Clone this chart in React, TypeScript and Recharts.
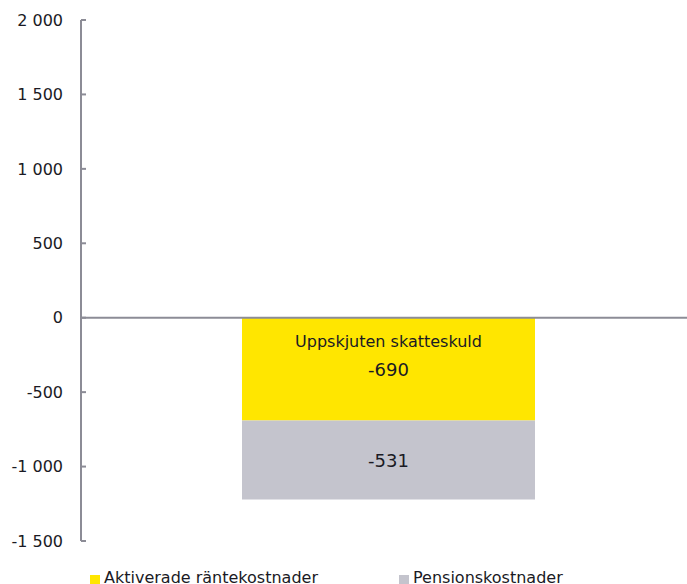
import React from "react";
import {
  BarChart,
  Bar,
  XAxis,
  YAxis,
  ReferenceLine,
  Legend,
  LabelList,
} from "recharts";

const categories = ["Uppskjuten skatteskuld"];
const aktiveradeRantekostnader = [-690];
const pensionskostnader = [-531];
const yTicks = [-1500, -1000, -500, 0, 500, 1000, 1500, 2000];

const YELLOW = "#FFE600";
const GREY = "#C4C4CD";
const AXIS = "#8C8C96";
const FONT = "'DejaVu Sans', sans-serif";

const data = categories.map((name, i) => ({
  name,
  aktiverade: aktiveradeRantekostnader[i],
  pension: pensionskostnader[i],
}));

const fmt = (v: number) => {
  const s = Math.abs(v).toString().replace(/\B(?=(\d{3})+(?!\d))/g, " ");
  return (v < 0 ? "-" : "") + s;
};

// negative bars come with a negative height, so normalise the box
const box = (p: any) => {
  const top = Math.min(p.y, p.y + p.height);
  return { top, h: Math.abs(p.height), cx: p.x + p.width / 2 };
};

function YellowLabel(props: any) {
  const { value, index } = props;
  const { top, cx } = box(props);
  return (
    <g fontFamily={FONT} fill="#1A1A24">
      <text x={cx} y={top + 29} textAnchor="middle" fontSize={16}>
        {categories[index]}
      </text>
      <text x={cx} y={top + 58} textAnchor="middle" fontSize={18}>
        {fmt(value)}
      </text>
    </g>
  );
}

function GreyLabel(props: any) {
  const { value } = props;
  const { top, h, cx } = box(props);
  return (
    <text
      x={cx}
      y={top + h / 2 + 7}
      textAnchor="middle"
      fontFamily={FONT}
      fontSize={18}
      fill="#1A1A24"
    >
      {fmt(value)}
    </text>
  );
}

function LegendContent(props: any) {
  const { payload } = props;
  return (
    <div style={{ position: "relative", height: 30, width: 687, fontFamily: FONT }}>
      {payload.map((p: any, i: number) => (
        <div
          key={p.value}
          style={{
            position: "absolute",
            left: i === 0 ? 90 : 399,
            top: 0,
            display: "flex",
            alignItems: "center",
            fontSize: 16,
            color: "#1A1A24",
            whiteSpace: "nowrap",
          }}
        >
          <span
            style={{
              display: "inline-block",
              width: 10,
              height: 10,
              background: p.color,
              marginRight: 4,
              marginTop: 4,
            }}
          />
          {p.value}
        </div>
      ))}
    </div>
  );
}

export default function App() {
  return (
    <div
      style={{
        position: "absolute",
        left: 0,
        top: 0,
        width: 687,
        height: 584,
        overflow: "hidden",
        background: "#fff",
      }}
    >
      <BarChart
        width={696}
        height={600}
        data={data}
        margin={{ top: 20, right: 0, left: 0, bottom: 29 }}
      >
        <XAxis dataKey="name" hide />
        <YAxis
          width={81}
          domain={[-1500, 2000]}
          ticks={yTicks}
          tickFormatter={fmt}
          stroke={AXIS}
          strokeWidth={2}
          tickSize={-5}
          tickMargin={23}
          tick={{ fill: "#1A1A24", fontSize: 16, fontFamily: FONT }}
          interval={0}
        />
        <ReferenceLine y={0} stroke={AXIS} strokeWidth={2} />
        <Legend
          content={<LegendContent />}
          wrapperStyle={{ top: 568, left: 0 }}
        />
        <Bar
          dataKey="aktiverade"
          name="Aktiverade räntekostnader"
          stackId="a"
          fill={YELLOW}
          barSize={293}
          isAnimationActive={false}
        >
          <LabelList dataKey="aktiverade" content={<YellowLabel />} />
        </Bar>
        <Bar
          dataKey="pension"
          name="Pensionskostnader"
          stackId="a"
          fill={GREY}
          barSize={293}
          isAnimationActive={false}
        >
          <LabelList dataKey="pension" content={<GreyLabel />} />
        </Bar>
      </BarChart>
    </div>
  );
}
